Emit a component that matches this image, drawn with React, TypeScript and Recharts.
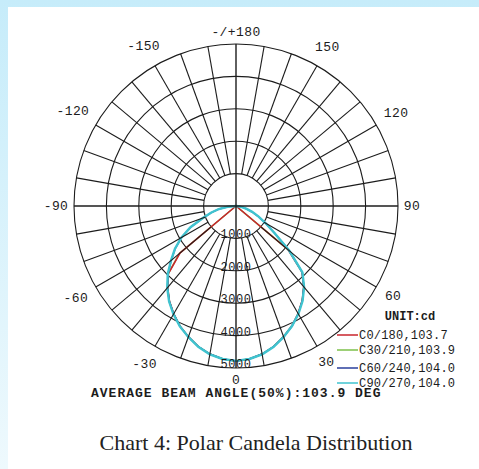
import { RadarChart, Radar, PolarGrid, PolarAngleAxis, PolarRadiusAxis } from "recharts";

// gamma angles of the measured half-plane (0 = straight down), 5 degree steps
const gammaAngles = [-90, -85, -80, -75, -70, -65, -60, -55, -50, -45, -40, -35, -30, -25, -20, -15, -10, -5,
  0, 5, 10, 15, 20, 25, 30, 35, 40, 45, 50, 55, 60, 65, 70, 75, 80, 85, 90];

// candela values per C-plane
const c0_180 = [0, 0, 0, 0, 0, 0, 0, 0, 2250, 2950, 3280, 3580, 3840, 4090, 4290, 4490, 4640, 4740,
  4780, 4740, 4640, 4490, 4290, 4080, 3830, 3560, 3250, 2880, 2100, 0, 0, 0, 0, 0, 0, 0, 0];
const c30_210 = [0, 0, 0, 0, 0, 0, 0, 0, 2280, 2960, 3290, 3590, 3850, 4090, 4300, 4490, 4640, 4740,
  4780, 4740, 4640, 4490, 4290, 4090, 3840, 3570, 3260, 2890, 2130, 0, 0, 0, 0, 0, 0, 0, 0];
const c60_240 = [0, 250, 530, 790, 1090, 1540, 1940, 2290, 2610, 2970, 3290, 3590, 3850, 4090, 4300, 4490, 4640, 4740,
  4780, 4740, 4640, 4490, 4300, 4090, 3840, 3570, 3260, 2890, 2140, 1440, 1040, 750, 520, 330, 190, 80, 0];
const c90_270 = [0, 260, 540, 800, 1100, 1550, 1950, 2300, 2620, 2980, 3300, 3600, 3860, 4100, 4300, 4500, 4650, 4740,
  4780, 4740, 4650, 4500, 4300, 4090, 3850, 3580, 3270, 2900, 2150, 1450, 1050, 760, 530, 340, 190, 80, 0];

const planeNames = ["C0/180", "C30/210", "C60/240", "C90/270"];
const beamAngles = [103.7, 103.9, 104.0, 104.0];
const planeColors = ["#c8242c", "#7cc04a", "#2a3f9d", "#3fc3cf"];

const angleTicks = [-170, -160, -150, -140, -130, -120, -110, -100, -90, -80, -70, -60, -50, -40, -30, -20, -10,
  0, 10, 20, 30, 40, 50, 60, 70, 80, 90, 100, 110, 120, 130, 140, 150, 160, 170, 180];
const radiusTicks = [0, 1000, 2000, 3000, 4000, 5000];

const data = gammaAngles.map((angle, i) => ({
  angle,
  c0: c0_180[i],
  c30: c30_210[i],
  c60: c60_240[i],
  c90: c90_270[i],
}));

const CX = 236;
const CY = 206;
const R = 162;
const INK = "#1c1c1c";
const MONO = "'Liberation Mono', 'DejaVu Sans Mono', monospace";
const RAD = Math.PI / 180;

const polar = (r: number, deg: number) => ({
  x: CX + r * Math.cos(-deg * RAD),
  y: CY + r * Math.sin(-deg * RAD),
});

function AngleTick(props: any) {
  const { payload } = props;
  const v = payload.value;
  const a = payload.coordinate;
  const isAxis = v % 90 === 0;
  const p1 = polar(isAxis ? 0 : R / 5, a);
  const p2 = polar(R, a);
  const label = v === 180 ? "-/+180" : String(v);
  // keep the label clear of the outer ring, whatever its width
  const hw = label.length * 4;
  const off = R + 6 + hw * Math.abs(Math.cos(a * RAD)) + 6 * Math.abs(Math.sin(a * RAD))
    + 4 * Math.abs(Math.sin(2 * a * RAD));
  const t = polar(off, a);
  return (
    <g>
      <line x1={p1.x} y1={p1.y} x2={p2.x} y2={p2.y} stroke={INK} strokeWidth={isAxis ? 1.4 : 1.1} />
      {v % 30 === 0 && (
        <text x={t.x} y={t.y} textAnchor="middle" dominantBaseline="central"
          fontFamily={MONO} fontSize={13} letterSpacing={0.4} fill={INK}>
          {label}
        </text>
      )}
    </g>
  );
}

function RadiusTick(props: any) {
  const { x, y, payload } = props;
  if (payload.value === 0) return null;
  return (
    <text x={x} y={y} textAnchor="middle" fontFamily={MONO} fontSize={12} letterSpacing={0.6} fill={INK}>
      {payload.value}
    </text>
  );
}

const avgBeam = beamAngles.reduce((s, b) => s + b, 0) / beamAngles.length;

export default function App() {
  return (
    <div style={{ position: "absolute", left: 0, top: 0, width: 479, height: 469,
      background: "linear-gradient(#c6ecfa, #eef9fd)" }}>
      <div style={{ position: "absolute", left: 8, top: 7, width: 471, height: 462, background: "#ffffff" }} />
      <div style={{ position: "absolute", left: 0, top: 0 }}>
        <RadarChart width={479} height={400} data={data} cx={CX} cy={CY} outerRadius={R}
          startAngle={-270} endAngle={90}>
          <PolarGrid gridType="circle" radialLines={false} stroke={INK} strokeWidth={1.1} />
          <PolarAngleAxis dataKey="angle" type="number" domain={[-180, 180]} ticks={angleTicks as any}
            axisLine={false} tickLine={false} tick={<AngleTick />} />
          <PolarRadiusAxis angle={-90} domain={[0, 5000]} ticks={radiusTicks as any} tickCount={6}
            axisLine={false} tickLine={false} tick={<RadiusTick />} />
          <Radar dataKey="c30" stroke={planeColors[1]} strokeWidth={1.5} fill="none" isAnimationActive={false} />
          <Radar dataKey="c0" stroke={planeColors[0]} strokeWidth={1.5} fill="none" isAnimationActive={false} />
          <Radar dataKey="c60" stroke={planeColors[2]} strokeWidth={1.5} fill="none" isAnimationActive={false} />
          <Radar dataKey="c90" stroke={planeColors[3]} strokeWidth={2.4} fill="none" isAnimationActive={false} />
        </RadarChart>
      </div>
      <svg width={479} height={469} style={{ position: "absolute", left: 0, top: 0 }}>
        <text x={410} y={320} textAnchor="middle" fontFamily={MONO} fontSize={12} fontWeight="bold" fill={INK}>
          UNIT:cd
        </text>
        {planeNames.map((n, i) => {
          const y = [335, 350, 368, 383][i];
          return (
            <g key={n}>
              <line x1={337} x2={358} y1={y} y2={y} stroke={planeColors[i]} strokeWidth={1.5} />
              <text x={359} y={y + 4} fontFamily={MONO} fontSize={12} letterSpacing={0.2} fill={INK}>
                {`${n},${beamAngles[i].toFixed(1)}`}
              </text>
            </g>
          );
        })}
        <text x={91} y={397} fontFamily={MONO} fontSize={13} fontWeight="bold" letterSpacing={1} fill={INK}>
          {`AVERAGE BEAM ANGLE(50%):${avgBeam.toFixed(1)} DEG`}
        </text>
        <text x={256} y={450} textAnchor="middle" fontFamily="'Liberation Serif', serif" fontSize={22} fill="#222">
          Chart 4: Polar Candela Distribution
        </text>
      </svg>
    </div>
  );
}
